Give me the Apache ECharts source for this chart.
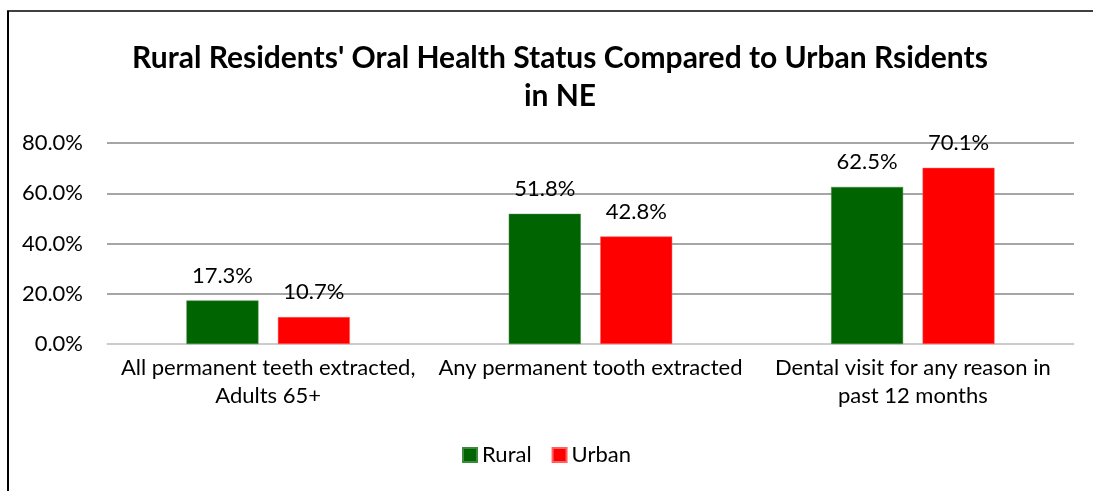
<!DOCTYPE html>
<html>
<head>
<meta charset="utf-8">
<script src="https://cdn.jsdelivr.net/npm/echarts@6/dist/echarts.min.js"></script>
<style>
  html, body { margin: 0; padding: 0; background: #fff; overflow: hidden; }
  #main { width: 1093px; height: 491px; }
</style>
</head>
<body>
<div id="main"></div>
<script>
// data
var categories = ['All permanent teeth extracted,\nAdults 65+', 'Any permanent tooth extracted', 'Dental visit for any reason in\npast 12 months'];
var ruralValues = [17.3, 51.8, 62.5];
var urbanValues = [10.7, 42.8, 70.1];
var seriesNames = ['Rural', 'Urban'];

var chart = echarts.init(document.getElementById('main'));
var fontName = 'Lato, "Open Sans", sans-serif';

var option = {
    backgroundColor: '#fff',
    animation: false,
    // outer frame: only the left and top edges show
    graphic: [
        {
            type: 'line',
            shape: { x1: 8, y1: 11, x2: 8, y2: 491 },
            style: { stroke: '#000', lineWidth: 2 }
        },
        {
            type: 'line',
            shape: { x1: 7, y1: 11, x2: 1093, y2: 11 },
            style: { stroke: '#000', lineWidth: 1.5 }
        }
    ],
    title: {
        text: "Rural Residents' Oral Health Status Compared to Urban Rsidents\nin NE",
        left: 555,
        textAlign: 'center',
        top: 34,
        textStyle: {
            fontFamily: fontName,
            fontSize: 30,
            fontWeight: 'bold',
            color: '#000',
            lineHeight: 38
        }
    },
    legend: {
        data: seriesNames,
        bottom: 20,
        left: 'center',
        itemWidth: 14,
        itemHeight: 14,
        itemGap: 20,
        icon: 'rect',
        textStyle: { fontFamily: fontName, fontSize: 22, color: '#000' }
    },
    grid: {
        left: 107,
        right: 19,
        top: 143,
        bottom: 147
    },
    xAxis: {
        type: 'category',
        data: categories,
        axisTick: { show: false },
        axisLine: { lineStyle: { color: '#d9d9d9', width: 1.5 } },
        axisLabel: {
            fontFamily: fontName,
            fontSize: 22,
            color: '#000',
            lineHeight: 28,
            margin: 10,
            interval: 0
        }
    },
    yAxis: {
        type: 'value',
        min: 0,
        max: 80,
        interval: 20,
        axisLine: { show: false },
        axisTick: { show: false },
        splitLine: { lineStyle: { color: '#898989', width: 1.5 } },
        axisLabel: {
            fontFamily: fontName,
            fontSize: 22,
            color: '#000',
            margin: 24,
            formatter: function (v) { return v.toFixed(1) + '%'; }
        }
    },
    series: [
        {
            name: seriesNames[0],
            type: 'bar',
            data: ruralValues,
            barWidth: 72,
            barGap: '27%',
            itemStyle: { color: '#006400', borderColor: '#3c8a3c', borderWidth: 0.5 },
            label: {
                show: true,
                position: 'top',
                distance: 14,
                fontFamily: fontName,
                fontSize: 22,
                color: '#000',
                formatter: function (p) { return p.value.toFixed(1) + '%'; }
            }
        },
        {
            name: seriesNames[1],
            type: 'bar',
            data: urbanValues,
            barWidth: 72,
            barGap: '27%',
            itemStyle: { color: '#ff0000', borderColor: '#ff6060', borderWidth: 0.5 },
            label: {
                show: true,
                position: 'top',
                distance: 14,
                fontFamily: fontName,
                fontSize: 22,
                color: '#000',
                formatter: function (p) { return p.value.toFixed(1) + '%'; }
            }
        }
    ]
};

chart.setOption(option);
window.onresize = function () { chart.resize(); };
</script>
</body>
</html>
